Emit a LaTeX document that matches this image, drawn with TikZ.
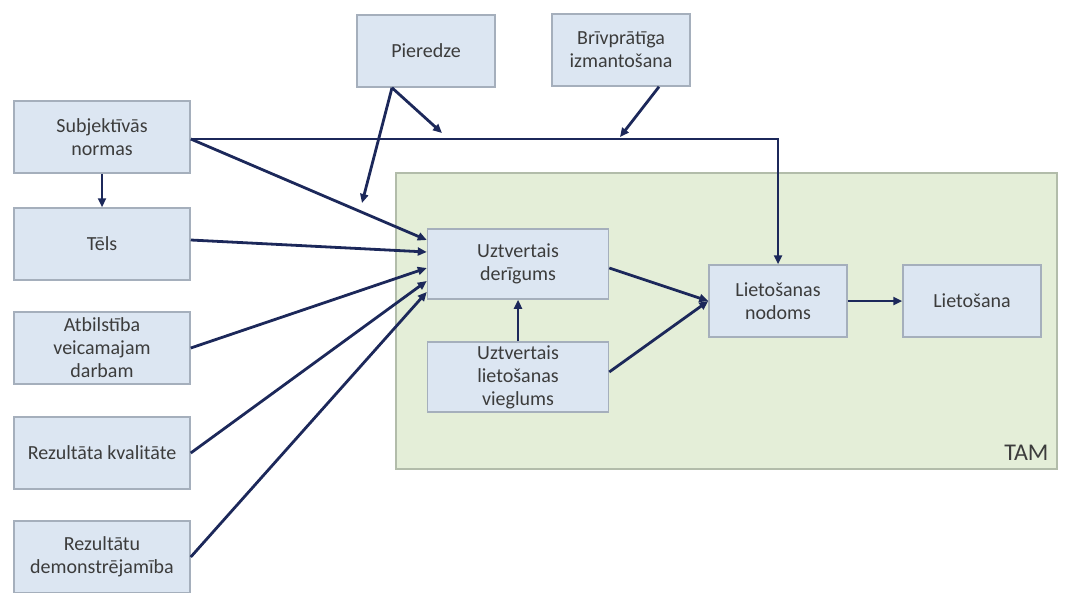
\documentclass[tikz,border=0pt]{standalone}
\usepackage{fontspec}
\setmainfont{Carlito}
\usetikzlibrary{arrows.meta}
\definecolor{boxfill}{RGB}{220,230,242}
\definecolor{boxline}{RGB}{165,175,188}
\definecolor{tamfill}{RGB}{228,238,216}
\definecolor{tamline}{RGB}{178,188,170}
\definecolor{arrowc}{RGB}{28,40,90}
\definecolor{txt}{RGB}{60,60,60}
\tikzset{
  box/.style={draw=boxline, line width=1.5pt, fill=boxfill, text=txt,
    minimum width=176pt, minimum height=72pt, align=center,
    font=\fontsize{20}{23}\selectfont, inner sep=2pt},
  sbox/.style={box, minimum width=138pt},
  tbox/.style={box, minimum width=181pt, minimum height=70pt},
  link/.style={draw=arrowc, line width=2.8pt,
    -{Triangle[length=9pt,width=8pt]}},
}
\begin{document}
\begin{tikzpicture}[x=1pt,y=-1pt]
\useasboundingbox (0,0) rectangle (1067,592);
% TAM region
\node[draw=tamline, line width=1.5pt, fill=tamfill, minimum width=661pt,
  minimum height=296pt, inner sep=0pt] (tam) at (726.5,321) {};
\node[text=txt, font=\fontsize{24}{28}\selectfont, anchor=south east]
  (tamlabel) at (1052,464) {TAM};

% external factors
\node[box] (subj) at (102,137) {Subjektīvās\\normas};
\node[box] (tels) at (102,244) {Tēls};
\node[box] (atb) at (102,348) {Atbilstība\\veicamajam\\darbam};
\node[box] (kval) at (102,453) {Rezultāta kvalitāte};
\node[box] (dem) at (102,557) {Rezultātu\\demonstrējamība};
\node[sbox] (pier) at (426,51) {Pieredze};
\node[sbox] (briv) at (621,50) {Brīvprātīga\\izmantošana};

% TAM core
\node[tbox] (ud) at (518,264) {Uztvertais\\derīgums};
\node[tbox] (ul) at (518,377) {Uztvertais\\lietošanas\\vieglums};
\node[sbox] (ln) at (778,301) {Lietošanas\\nodoms};
\node[sbox] (lt) at (972,301) {Lietošana};

% moderator targets on the links
\coordinate (pa) at (362,203);
\coordinate (pb) at (442,133);
\coordinate (bb) at (620,137);

% links
\draw[link] ([yshift=-2pt]subj.east) -| (ln.north);
\draw[link] ([yshift=-2pt]subj.east) -- ([yshift=24pt]ud.west);
\draw[link] (subj.south) -- (tels.north);
\draw[link] ([yshift=4pt]tels.east) -- ([yshift=12pt]ud.west);
\draw[link] (atb.east) -- ([yshift=-4pt]ud.west);
\draw[link] (kval.east) -- ([yshift=-17pt]ud.west);
\draw[link] (dem.east) -- ([yshift=-28pt]ud.west);
\draw[link] ([xshift=-34pt]pier.south) -- (pa);
\draw[link] ([xshift=-34pt]pier.south) -- (pb);
\draw[link] ([xshift=38pt]briv.south) -- (bb);
\draw[link] ([yshift=-4pt]ud.east) -- (ln.west);
\draw[link] ([yshift=5pt]ul.east) -- (ln.west);
\draw[link] (ul.north) -- (ud.south);
\draw[link] (ln.east) -- (lt.west);
\end{tikzpicture}
\end{document}
